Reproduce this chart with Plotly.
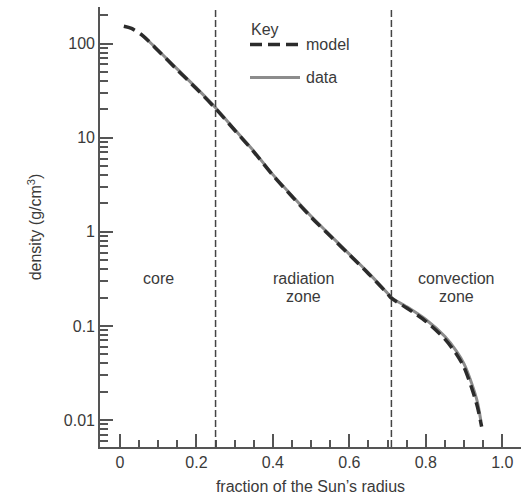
import math
import plotly.graph_objects as go

# --- data ---
model_x = [0.01, 0.03, 0.06, 0.10, 0.15, 0.20, 0.25, 0.30, 0.35, 0.40, 0.45, 0.50,
           0.55, 0.60, 0.65, 0.70, 0.71, 0.75, 0.80, 0.85, 0.88, 0.90, 0.92, 0.935, 0.946]
model_y = [153, 145, 121, 84, 52.5, 33.1, 20.4, 12.0, 7.08, 3.98, 2.37, 1.43,
           0.90, 0.569, 0.359, 0.219, 0.197, 0.155, 0.112, 0.0724, 0.0501, 0.0363,
           0.0219, 0.0138, 0.0085]

data_x = [0.06, 0.10, 0.15, 0.20, 0.25, 0.30, 0.35, 0.40, 0.45, 0.50, 0.55, 0.60,
          0.65, 0.70, 0.71, 0.75, 0.80, 0.85, 0.88, 0.90, 0.92, 0.935, 0.944]
data_y = [122, 85, 53.5, 33.8, 20.8, 12.2, 7.2, 4.05, 2.42, 1.46, 0.92, 0.58,
          0.366, 0.222, 0.2, 0.16, 0.117, 0.077, 0.054, 0.0395, 0.0245, 0.0155, 0.0098]

zone_bounds = [0.25, 0.71]
zone_labels = [("core", None), ("radiation", "zone"), ("convection", "zone")]
zone_label_x = [0.1, 0.48, 0.88]
zone_label_y = 0.32

y_major = [0.01, 0.1, 1, 10, 100]
y_major_text = ["0.01", "0.1", "1", "10", "100"]
y_minor_mult = [2, 3, 4, 5, 6, 7, 8, 9]
y_decades = [0.001, 0.01, 0.1, 1, 10, 100]

x_major = [0, 0.2, 0.4, 0.6, 0.8, 1.0]
x_major_text = ["0", "0.2", "0.4", "0.6", "0.8", "1.0"]

FONT = "Liberation Sans, Arial, Helvetica, sans-serif"
TXT = "#3a3a3a"
AX = "#555555"

y_minor = [m * d for d in y_decades for m in y_minor_mult]

fig = go.Figure()
fig.add_trace(go.Scatter(x=data_x, y=data_y, mode="lines", name="data",
                         line=dict(color="#8c8c8c", width=3, shape="spline", smoothing=0.8),
                         showlegend=False, hoverinfo="skip"))
fig.add_trace(go.Scatter(x=model_x, y=model_y, mode="lines", name="model",
                         line=dict(color="#2b2b2b", width=3.5, dash="12px,6px",
                                   shape="spline", smoothing=0.8),
                         showlegend=False, hoverinfo="skip"))

for b in zone_bounds:
    fig.add_shape(type="line", xref="x", yref="paper", x0=b, x1=b, y0=0, y1=1,
                  line=dict(color="#444444", width=1.5, dash="7px,3px"))

for (l1, l2), zx in zip(zone_labels, zone_label_x):
    fig.add_annotation(x=zx, y=math.log10(zone_label_y), xref="x", yref="y", text=l1,
                       showarrow=False, font=dict(size=16, color=TXT, family=FONT),
                       yanchor="middle")
    if l2:
        fig.add_annotation(x=zx, y=math.log10(zone_label_y), xref="x", yref="y", text=l2,
                           showarrow=False, font=dict(size=16, color=TXT, family=FONT),
                           yanchor="middle", yshift=-18.5)

# Manual key (legend) in paper coordinates
W, H = 521, 498
ml, mr, mt, mb = 100, 0, 7, 51
pw, ph = W - ml - mr, H - mt - mb
def px(x):
    return (x - ml) / pw
def py(y):
    return 1 - (y - mt) / ph

fig.add_annotation(x=px(249), y=py(30), xref="paper", yref="paper", text="Key",
                   showarrow=False, xanchor="left", yanchor="middle",
                   font=dict(size=16, color=TXT, family=FONT))
fig.add_shape(type="line", xref="paper", yref="paper", x0=px(250), x1=px(300),
              y0=py(44.5), y1=py(44.5),
              line=dict(color="#2b2b2b", width=3.5, dash="12px,6px"))
fig.add_annotation(x=px(304), y=py(44.5), xref="paper", yref="paper", text="model",
                   showarrow=False, xanchor="left", yanchor="middle",
                   font=dict(size=16, color=TXT, family=FONT))
fig.add_shape(type="line", xref="paper", yref="paper", x0=px(250), x1=px(300),
              y0=py(77.5), y1=py(77.5),
              line=dict(color="#8c8c8c", width=3))
fig.add_annotation(x=px(304), y=py(77.5), xref="paper", yref="paper", text="data",
                   showarrow=False, xanchor="left", yanchor="middle",
                   font=dict(size=16, color=TXT, family=FONT))

fig.update_layout(
    width=W, height=H,
    margin=dict(l=ml, r=mr, t=mt, b=mb, pad=0),
    paper_bgcolor="white", plot_bgcolor="white",
    font=dict(family=FONT, size=16, color=TXT),
    showlegend=False,
)
fig.update_xaxes(
    range=[-0.0523, 1.049], showgrid=False, zeroline=False,
    showline=True, linecolor=AX, linewidth=1.6,
    tickmode="array", tickvals=x_major, ticktext=x_major_text,
    ticks="inside", ticklen=13, tickwidth=1.5, tickcolor=AX,
    tickfont=dict(size=16, color=TXT, family=FONT),
    minor=dict(tickmode="linear", tick0=0, dtick=0.05, ticks="inside",
               ticklen=7, tickwidth=1.5, tickcolor=AX, showgrid=False),
    title=dict(text="fraction of the Sun’s radius", standoff=11,
               font=dict(size=16, color=TXT, family=FONT)),
)
fig.update_yaxes(
    type="log", range=[-2.287, 2.389], showgrid=False, zeroline=False,
    showline=True, linecolor=AX, linewidth=1.6,
    tickmode="array", tickvals=y_major, ticktext=y_major_text,
    ticks="inside", ticklen=13, tickwidth=1.5, tickcolor=AX,
    tickfont=dict(size=16, color=TXT, family=FONT),
    minor=dict(tickmode="array", tickvals=y_minor, ticks="inside",
               ticklen=8, tickwidth=1.5, tickcolor=AX, showgrid=False),
    title=dict(text="density (g/cm<sup>3</sup>)", standoff=18,
               font=dict(size=16, color=TXT, family=FONT)),
)

fig.write_html("out.html")
